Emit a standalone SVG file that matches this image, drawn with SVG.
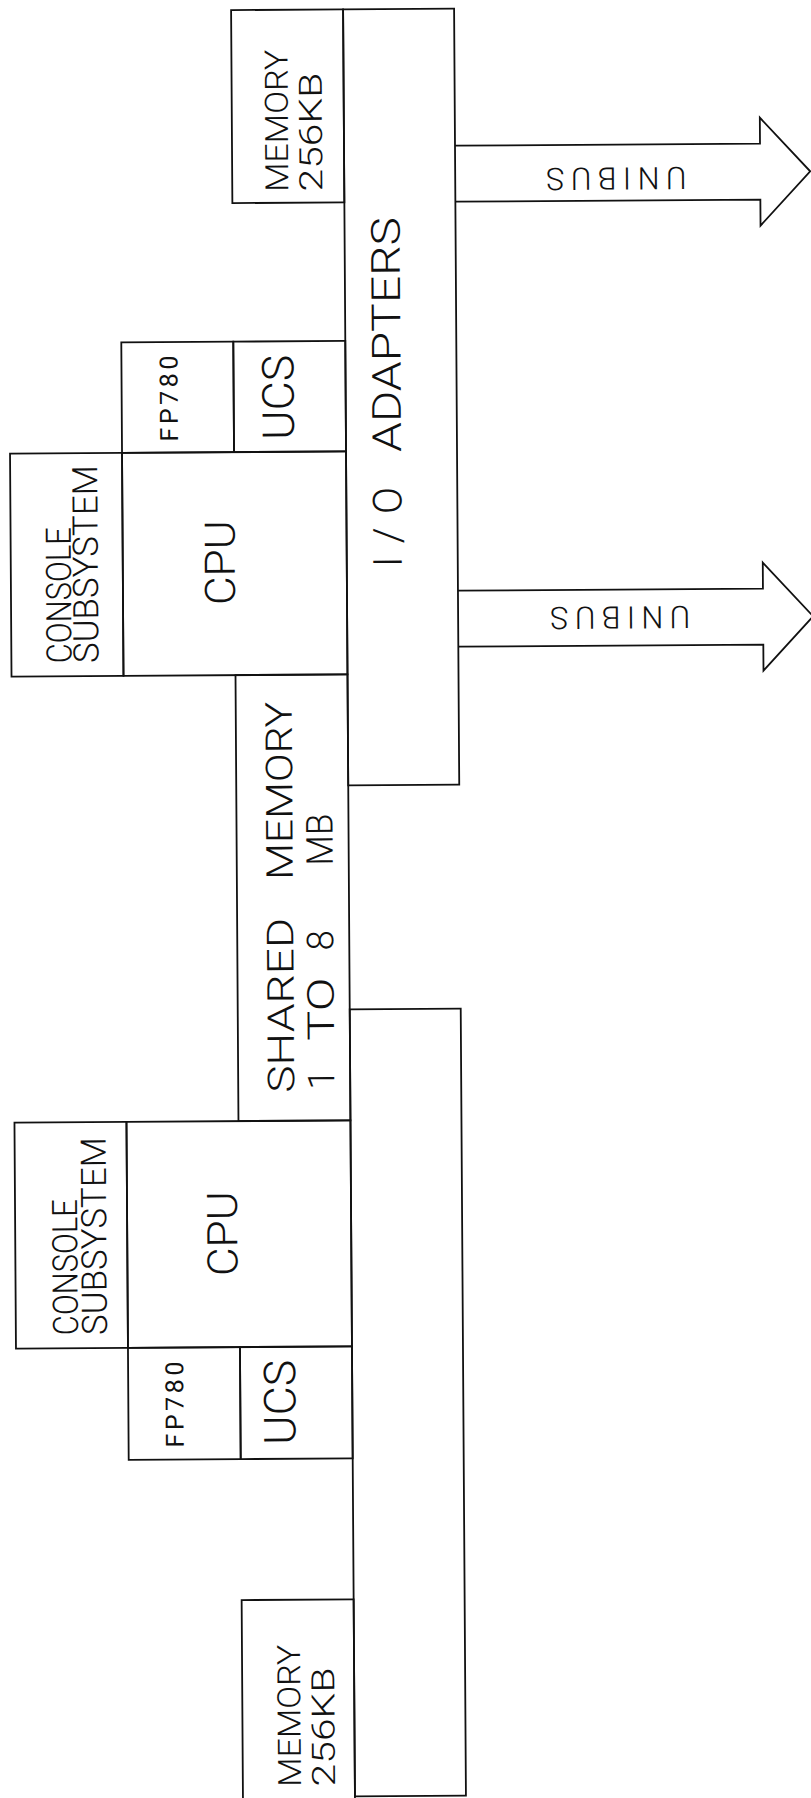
<svg xmlns="http://www.w3.org/2000/svg" width="811" height="1798" viewBox="0 0 811 1798">
<style>
.box{fill:none;stroke:#111;stroke-width:1.8;stroke-linejoin:miter}
.arr{fill:#fff;stroke:#111;stroke-width:1.8;stroke-linejoin:miter}
.t{font-family:"Roboto","Liberation Sans",Arial,sans-serif;font-weight:300;fill:#111}
.b{font-weight:400}
</style>
<rect x="0" y="0" width="811" height="1798" fill="#fff"/>
<g transform="rotate(-0.38 405 900)">
<g id="connectors">
<g id="unibus-1">
<path class="arr" d="M460,146 H765 V120 L815,174 L765,228 V202 H460"/>
<text class="t" transform="translate(621,180) rotate(180)" y="11" text-anchor="middle" font-size="31" textLength="140" lengthAdjust="spacing">UNIBUS</text>
</g>
<g id="unibus-2">
<path class="arr" d="M460,591 H765 V565 L815,619 L765,673 V647 H460"/>
<text class="t" transform="translate(622,619) rotate(180)" y="11" text-anchor="middle" font-size="31" textLength="140" lengthAdjust="spacing">UNIBUS</text>
</g>
</g>
<g id="memory-top">
<rect class="box" x="237" y="9" width="112" height="193"/>
<text class="t" transform="translate(293,191) rotate(-90)" font-size="32" textLength="142" lengthAdjust="spacingAndGlyphs">MEMORY</text>
<text class="t" transform="translate(327,191) rotate(-90)" font-size="32" textLength="119" lengthAdjust="spacingAndGlyphs">256KB</text>
</g>
<g id="io-adapters">
<rect class="box" x="349" y="9" width="111" height="776"/>
<text class="t" transform="translate(404,567) rotate(-90)" font-size="40"><tspan x="0" textLength="80" lengthAdjust="spacing">I/O</tspan> <tspan x="115" textLength="235" lengthAdjust="spacingAndGlyphs">ADAPTERS</tspan></text>
</g>
<g id="fp780-top">
<rect class="box" x="125" y="340.5" width="112" height="110.5"/>
<text class="t b" transform="translate(181,440) rotate(-90)" font-size="25" textLength="86" lengthAdjust="spacing">FP780</text>
</g>
<g id="ucs-top">
<rect class="box" x="237" y="340.5" width="112" height="110.5"/>
<text class="t" transform="translate(297,439) rotate(-90)" font-size="44" textLength="85" lengthAdjust="spacingAndGlyphs">UCS</text>
</g>
<g id="console-top">
<rect class="box" x="13" y="451" width="112" height="223"/>
<text class="t" transform="translate(73,661) rotate(-90)" font-size="35" textLength="136" lengthAdjust="spacingAndGlyphs">CONSOLE</text>
<text class="t" transform="translate(100,661) rotate(-90)" font-size="35" textLength="198" lengthAdjust="spacingAndGlyphs">SUBSYSTEM</text>
</g>
<g id="cpu-top">
<rect class="box" x="125" y="451" width="224" height="223"/>
<text class="t" transform="translate(237,604) rotate(-90)" font-size="42" textLength="85" lengthAdjust="spacingAndGlyphs">CPU</text>
</g>
<g id="shared-memory">
<rect class="box" x="237" y="674" width="112" height="446"/>
<text class="t" transform="translate(293,1092) rotate(-90)" font-size="37"><tspan x="0" textLength="175" lengthAdjust="spacingAndGlyphs">SHARED</tspan> <tspan x="213" textLength="178" lengthAdjust="spacingAndGlyphs">MEMORY</tspan></text>
<text class="t" transform="translate(333,1089) rotate(-90)" font-size="37"><tspan x="0">1</tspan> <tspan x="49" textLength="63" lengthAdjust="spacingAndGlyphs">TO</tspan> <tspan x="139">8</tspan> <tspan x="224" textLength="52" lengthAdjust="spacingAndGlyphs">MB</tspan></text>
</g>
<g id="lower-bus">
<rect class="box" x="349" y="1009" width="111" height="787"/>
</g>
<g id="console-bottom">
<rect class="box" x="13" y="1120" width="112" height="226"/>
<text class="t" transform="translate(75,1333) rotate(-90)" font-size="35" textLength="136" lengthAdjust="spacingAndGlyphs">CONSOLE</text>
<text class="t" transform="translate(104,1333) rotate(-90)" font-size="35" textLength="198" lengthAdjust="spacingAndGlyphs">SUBSYSTEM</text>
</g>
<g id="cpu-bottom">
<rect class="box" x="125" y="1120" width="224" height="226"/>
<text class="t" transform="translate(235,1275) rotate(-90)" font-size="42" textLength="85" lengthAdjust="spacingAndGlyphs">CPU</text>
</g>
<g id="fp780-bottom">
<rect class="box" x="125" y="1346" width="112" height="112"/>
<text class="t b" transform="translate(180,1446) rotate(-90)" font-size="25" textLength="86" lengthAdjust="spacing">FP780</text>
</g>
<g id="ucs-bottom">
<rect class="box" x="237" y="1346" width="112" height="112"/>
<text class="t" transform="translate(292,1444) rotate(-90)" font-size="44" textLength="85" lengthAdjust="spacingAndGlyphs">UCS</text>
</g>
<g id="memory-bottom">
<rect class="box" x="237" y="1599" width="112" height="230"/>
<text class="t" transform="translate(295,1786) rotate(-90)" font-size="32" textLength="142" lengthAdjust="spacingAndGlyphs">MEMORY</text>
<text class="t" transform="translate(329,1786) rotate(-90)" font-size="32" textLength="119" lengthAdjust="spacingAndGlyphs">256KB</text>
</g>
</g>
</svg>
